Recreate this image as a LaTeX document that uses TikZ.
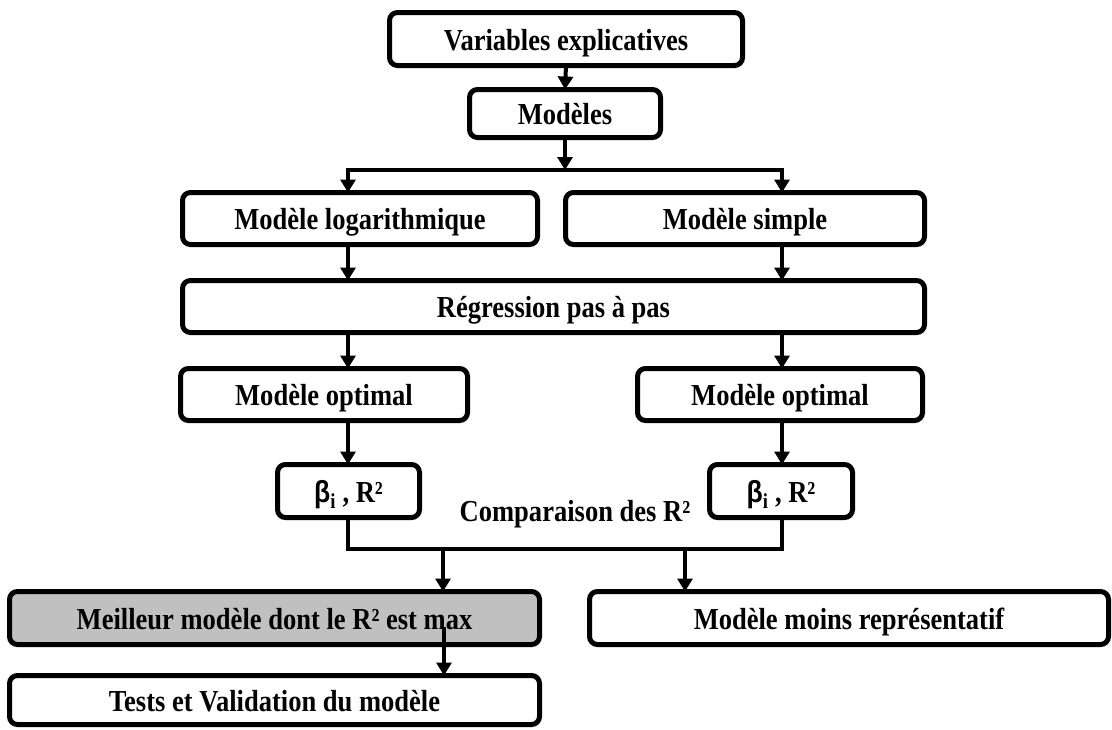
\documentclass[tikz,border=0pt]{standalone}
\usepackage{fontspec}
\setmainfont{Liberation Serif}[FakeStretch=0.87]
\newfontfamily\greekfont{Liberation Sans}[FakeStretch=0.87]
\usetikzlibrary{arrows.meta}
\definecolor{boxgray}{RGB}{192,192,192}
\tikzset{
  box/.style={draw=black, line width=5pt, rounded corners=8pt, fill=white,
    inner sep=0pt, outer sep=0pt, align=center,
    text height=22pt, text depth=0pt,
    font=\fontsize{30.5}{34}\selectfont\bfseries},
  link/.style={draw=black, line width=4pt},
  arr/.style={link, -{Triangle[width=15pt,length=13pt]}},
  lbl/.style={font=\fontsize{30.5}{34}\selectfont\bfseries, inner sep=0pt}
}
\newcommand{\betaR}{{\greekfont\bfseries β}\textsubscript{i} , R²}
\begin{document}
\begin{tikzpicture}[x=1pt,y=-1pt]
\useasboundingbox (0,0) rectangle (1112,729);

% boxes
\node[box, minimum width=353pt, minimum height=53pt] (var) at (566,39) {Variables explicatives};
\node[box, minimum width=191pt, minimum height=48pt] (mod) at (565,113.5) {Modèles};
\node[box, minimum width=355pt, minimum height=52pt] (log) at (360,218.5) {Modèle logarithmique};
\node[box, minimum width=359pt, minimum height=52pt] (simp) at (745,218.5) {Modèle simple};
\node[box, minimum width=742pt, minimum height=52pt] (reg) at (553.5,306.5) {Régression pas à pas};
\node[box, minimum width=287pt, minimum height=52pt] (optL) at (324,394.5) {Modèle optimal};
\node[box, minimum width=285pt, minimum height=52pt] (optR) at (780,394.5) {Modèle optimal};
\node[box, minimum width=142pt, minimum height=53pt] (betL) at (348.5,491) {\betaR};
\node[box, minimum width=143pt, minimum height=53pt] (betR) at (781,491) {\betaR};
\node[lbl] (cmp) at (575,514) {Comparaison des R²};
\node[box, fill=boxgray, minimum width=530pt, minimum height=53pt] (best) at (274.5,618) {Meilleur modèle dont le R² est max};
\node[box, minimum width=519pt, minimum height=53pt] (moins) at (849,618) {Modèle moins représentatif};
\node[box, minimum width=530pt, minimum height=49pt] (tests) at (274.5,700) {Tests et Validation du modèle};

% branch points
\coordinate (xL) at (348,0);
\coordinate (xR) at (782,0);
\coordinate (split) at (565,170);
\coordinate (jn) at (565,549);
\coordinate (cA) at (443,549);
\coordinate (cB) at (685,549);
\coordinate (cC) at (444,627);

% connectors
\draw[arr] (var.south) -- (mod.north);
\draw[arr] (mod.south) -- (split);
\draw[arr] (split) -| (xL |- log.north);
\draw[arr] (split) -| (xR |- simp.north);
\draw[arr] (xL |- log.south) -- (xL |- reg.north);
\draw[arr] (xR |- simp.south) -- (xR |- reg.north);
\draw[arr] (xL |- reg.south) -- (xL |- optL.north);
\draw[arr] (xR |- reg.south) -- (xR |- optR.north);
\draw[arr] (xL |- optL.south) -- (xL |- betL.north);
\draw[arr] (xR |- optR.south) -- (xR |- betR.north);
\draw[link] (xL |- betL.south) |- (jn) -| (xR |- betR.south);
\draw[arr] (cA) -- (cA |- best.north);
\draw[arr] (cB) -- (cB |- moins.north);
\draw[arr] (cC) -- (cC |- tests.north);
\end{tikzpicture}
\end{document}
